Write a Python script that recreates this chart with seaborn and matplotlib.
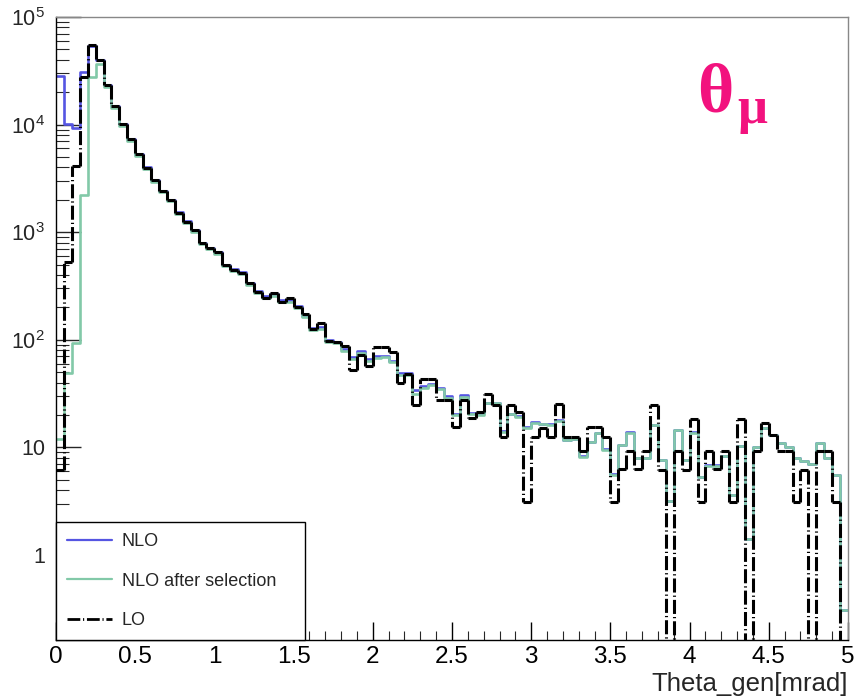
import numpy as np
import pandas as pd
import matplotlib
matplotlib.use("Agg")
import matplotlib.pyplot as plt
from matplotlib.lines import Line2D
from matplotlib.collections import LineCollection
from matplotlib.ticker import FixedLocator, MultipleLocator, NullFormatter, FixedFormatter
import seaborn as sns

# Binning of the generated muon angle (mrad)
n_bins = 100
x_min, x_max = 0.0, 5.0

# Bin contents, NLO
nlo = [28000, 10200, 9300, 31000, 54000, 40000, 23200, 14900, 10200, 7300,
       5300, 4000, 3050, 2430, 2000, 1530, 1260, 1050, 795, 720,
       655, 500, 455, 425, 340, 285, 255, 265, 235, 232,
       205, 168, 128, 131, 100, 96, 82, 69, 79, 66,
       70, 71, 64, 49, 49, 34, 37, 39, 36, 30,
       20.5, 30.5, 21, 20.7, 26, 25.7, 14.2, 20.6, 19.5, 15.5,
       17.2, 16.5, 16.4, 17.8, 11.8, 12, 8.3, 11.3, 13.5, 9.6,
       5.6, 10.5, 14.0, 7.9, 8.0, 16.1, 7.6, 3.2, 14.5, 7.6,
       13.8, 5.3, 6.8, 6.8, 8.3, 3.6, 10.2, 1.4, 10.0, 15.0,
       13.0, 11.0, 10.0, 8.0, 7.5, 7.0, 11.0, 8.0, 5.5, 0.31]

# Bin contents, NLO after selection
nlo_sel = [12, 49, 93, 2230, 27700, 36800, 22400, 14400, 9800, 7050,
           5150, 3850, 2950, 2350, 1930, 1480, 1220, 1010, 770, 695,
           630, 485, 440, 410, 325, 275, 245, 255, 225, 223,
           197, 162, 123, 126, 96, 93, 79, 66, 76, 64,
           68, 69, 62, 47, 47, 31, 36, 38, 35, 29,
           19.8, 29.5, 20.3, 20.0, 25.7, 25.7, 14.0, 20.4, 19.3, 15.2,
           17.0, 16.5, 16.2, 17.6, 11.7, 11.9, 8.2, 11.1, 13.5, 9.5,
           5.5, 10.5, 13.7, 7.9, 8.0, 16.1, 7.6, 3.2, 14.5, 7.6,
           13.7, 5.3, 6.7, 6.7, 8.3, 3.6, 10.2, 1.4, 10.0, 15.0,
           13.0, 11.0, 10.0, 8.0, 7.5, 7.0, 11.0, 8.0, 5.5, 0.31]

# Bin contents, LO
lo = [6.2, 530, 4100, 27700, 55300, 40100, 23200, 14900, 10200, 7300,
      5300, 3980, 3050, 2415, 1990, 1517, 1252, 1048, 788, 708,
      650, 496, 446, 421, 335, 280, 246, 271, 226, 243,
      203, 173, 126, 142, 98, 96, 87, 52, 72, 57,
      85, 85, 77, 40, 48, 24.6, 43, 43, 27.6, 27.6,
      15.4, 27.6, 18.6, 21.5, 31, 24.8, 12.4, 24.8, 21.5, 3.1,
      12.4, 15.2, 12.4, 25.1, 12.4, 12.4, 9.3, 15.3, 15.3, 12.4,
      3.1, 6.3, 9.2, 6.3, 9.2, 24.8, 6.2, 0, 9.3, 6.2,
      18.4, 3.1, 9.2, 6.3, 9.3, 3.1, 18.2, 0, 9.3, 17.0,
      13.0, 9.3, 9.3, 3.1, 6.2, 0, 9.3, 9.3, 3.1, 0]

series_labels = ["NLO", "NLO after selection", "LO"]
y_tick_values = [1, 10, 100, 1000, 10000, 100000]
y_tick_labels = ["1", "10", "$10^{2}$", "$10^{3}$", "$10^{4}$", "$10^{5}$"]
x_tick_values = [0, 0.5, 1, 1.5, 2, 2.5, 3, 3.5, 4, 4.5, 5]
x_tick_labels = ["0", "0.5", "1", "1.5", "2", "2.5", "3", "3.5", "4", "4.5", "5"]
x_title = "Theta_gen[mrad]"

sns.set_style("ticks")
label_font = "Liberation Sans"
plt.rcParams["font.family"] = ["Liberation Sans", "DejaVu Sans"]
plt.rcParams["mathtext.fontset"] = "custom"
plt.rcParams["mathtext.rm"] = label_font
plt.rcParams["mathtext.it"] = label_font

edges = np.linspace(x_min, x_max, n_bins + 1)
centers = 0.5 * (edges[:-1] + edges[1:])

fig = plt.figure(figsize=(8.56, 6.98), dpi=100)
ax = fig.add_axes([56 / 856, 1 - 640 / 698, 792 / 856, 623 / 698])

blue = "#5555e2"
green = "#82c9a8"
lo_dash = (0, (4.6, 1.0, 0.4, 1.0))
styles = [
    dict(values=nlo, color=blue, lw=1.9),
    dict(values=nlo_sel, color=green, lw=1.9),
    dict(values=lo, color="black", lw=2.2),
]
for st in styles:
    df = pd.DataFrame({"theta": centers, "count": np.asarray(st["values"], float)})
    sns.histplot(data=df, x="theta", weights="count", bins=[float(e) for e in edges],
                 element="step", fill=False, color=st["color"], linewidth=st["lw"],
                 ax=ax)

# LO outline: each step edge is stroked on its own so the dash pattern
# restarts on every segment (short steps stay solid, long drops show dashes)
lo_line = ax.lines[-1]
xs = np.asarray(lo_line.get_xdata(), float)
ys = np.asarray(lo_line.get_ydata(), float)
segs = []
for i in range(len(xs) - 1):
    segs.append([(xs[i], ys[i]), (xs[i + 1], ys[i])])
    if i + 1 < len(xs) - 1:
        segs.append([(xs[i + 1], ys[i]), (xs[i + 1], ys[i + 1])])
lo_line.set_visible(False)

ax.set_yscale("log")
ax.add_collection(LineCollection(segs, colors="black", linewidths=2.2,
                                 linestyles=[lo_dash], capstyle="butt", zorder=3))

handles = [
    Line2D([], [], color=blue, lw=1.6),
    Line2D([], [], color=green, lw=1.6),
    Line2D([], [], color="black", lw=2.0, ls=lo_dash),
]

ax.set_xlim(x_min, x_max)
ax.set_ylim(0.162, 1.0e5)
ax.set_xlabel("")
ax.set_ylabel("")

# Axis ticks drawn inside the frame
ax.xaxis.set_major_locator(FixedLocator(x_tick_values))
ax.xaxis.set_major_formatter(FixedFormatter(x_tick_labels))
ax.xaxis.set_minor_locator(MultipleLocator(0.1))
ax.yaxis.set_major_locator(FixedLocator(y_tick_values))
ax.yaxis.set_major_formatter(FixedFormatter(y_tick_labels))
minor_y = [m * 10.0 ** e for e in range(-1, 5) for m in range(2, 10)]
ax.yaxis.set_minor_locator(FixedLocator(minor_y))
ax.yaxis.set_minor_formatter(NullFormatter())
ax.tick_params(axis="x", which="major", direction="in", length=13, width=1.0, pad=4,
               labelsize=17.5, colors="black")
ax.tick_params(axis="x", which="minor", direction="in", length=6.5, width=0.8)
ax.tick_params(axis="y", which="major", direction="in", length=18, width=1.0, pad=8,
               labelsize=15.5)
ax.tick_params(axis="y", which="minor", direction="in", length=9, width=0.8)
for sp in ax.spines.values():
    sp.set_color("#888888")
    sp.set_linewidth(1.0)
ax.spines["left"].set_color("black")
ax.spines["bottom"].set_color("black")

fig.text(848 / 856, 1 - 691 / 698, x_title, ha="right", va="baseline",
         fontsize=18.5, family=label_font)

# Plot title
title_color = "#f2127e"
fig.text(697 / 856, 1 - 111 / 698, "θ", color=title_color, fontsize=50,
         fontweight="bold", family="Liberation Serif", ha="left", va="baseline")
fig.text(737 / 856, 1 - 123 / 698, "μ", color=title_color, fontsize=38,
         fontweight="bold", family="Liberation Serif", ha="left", va="baseline")

leg = ax.legend(handles, series_labels, loc="lower left",
                bbox_to_anchor=(0, 0, 249 / 792, 118 / 623), mode="expand",
                borderaxespad=0, fancybox=False, framealpha=1, edgecolor="black",
                fontsize=13, handlelength=2.5, handletextpad=0.55,
                labelspacing=1.25, borderpad=0.6, handleheight=0.7)
leg.get_frame().set_linewidth(1.0)
leg.set_zorder(10)

fig.savefig("out.png", dpi=100)
